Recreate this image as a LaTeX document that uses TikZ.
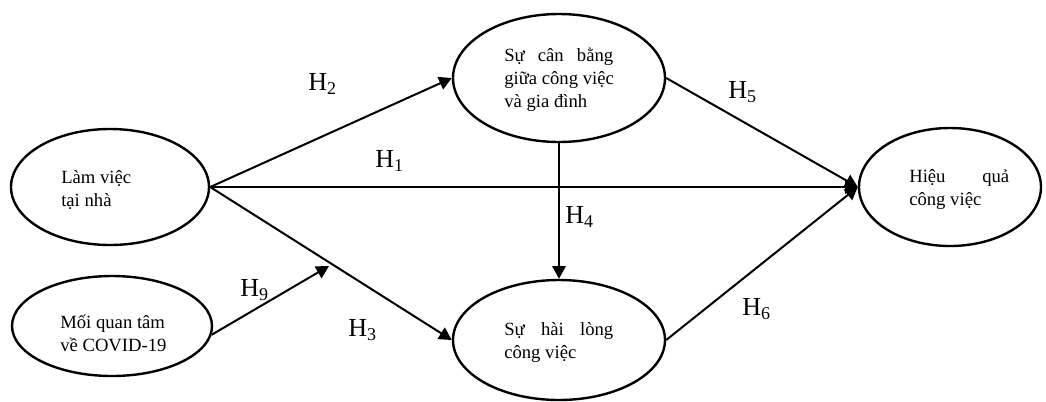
\documentclass[tikz,border=0pt]{standalone}
\usepackage{fontspec}
\setmainfont{Liberation Serif}
\usetikzlibrary{shapes.geometric,arrows.meta}
% hypothesis label: H with a lowered digit
\newcommand\Hyp[1]{H\raisebox{-3pt}{\fontsize{13.5}{13.5}\selectfont #1}}
\begin{document}
\begin{tikzpicture}[x=0.75pt,y=-0.75pt,
  ell/.style={draw, ellipse, line width=1.8pt, inner sep=0pt},
  lbl/.style={inner sep=0pt, anchor=base west, font=\fontsize{14}{17.25}\selectfont},
  hyp/.style={inner sep=0pt, anchor=base west, font=\fontsize{19.5}{19.5}\selectfont},
  link/.style={line width=1.5pt, -{Triangle[length=9.5pt,width=10pt]}}]
\useasboundingbox (0,0) rectangle (1046,401);

% constructs
\node[ell, minimum width=148.5pt, minimum height=87pt] (wfh) at (110,187) {};
\node[ell, minimum width=150pt, minimum height=75pt] (covid) at (112,326) {};
\node[ell, minimum width=159pt, minimum height=96pt] (balance) at (559,78) {};
\node[ell, minimum width=159pt, minimum height=90pt] (satis) at (559,340) {};
\node[ell, minimum width=136.5pt, minimum height=88.5pt] (perf) at (950,187) {};

% construct names
\node[lbl] (twfh) at (61,183) {\parbox[t]{80pt}{Làm việc\\tại nhà}};
\node[lbl] (tcovid) at (60,328) {\parbox[t]{80pt}{Mối quan tâm\\về COVID-19}};
\node[lbl] (tbalance) at (504,61) {\parbox[t]{90pt}{\makebox[81.75pt][s]{Sự cân bằng}\\giữa công việc\\và gia đình}};
\node[lbl] (tsatis) at (504,335) {\parbox[t]{90pt}{\makebox[81.75pt][s]{Sự hài lòng}\\công việc}};
\node[lbl] (tperf) at (909,182) {\parbox[t]{90pt}{\makebox[75pt][s]{Hiệu quả}\\công việc}};

% paths
\coordinate (mod) at (329,266);
\draw[link] (wfh.east) -- (perf.west);
\draw[link] (wfh.east) -- (balance.west);
\draw[link] (wfh.east) -- (satis.west);
\draw[link] (balance.south) -- (satis.north);
\draw[link] (balance.east) -- (perf.west);
\draw[link] (satis.east) -- (perf.west);
\draw[link] (covid.-5) -- (mod);

% hypotheses
\node[hyp] (h1) at (375,167) {\Hyp{1}};
\node[hyp] (h2) at (308,90) {\Hyp{2}};
\node[hyp] (h3) at (348,336) {\Hyp{3}};
\node[hyp] (h4) at (565,223) {\Hyp{4}};
\node[hyp] (h5) at (728,98) {\Hyp{5}};
\node[hyp] (h6) at (742,315) {\Hyp{6}};
\node[hyp] (h9) at (240,296) {\Hyp{9}};
\end{tikzpicture}
\end{document}
